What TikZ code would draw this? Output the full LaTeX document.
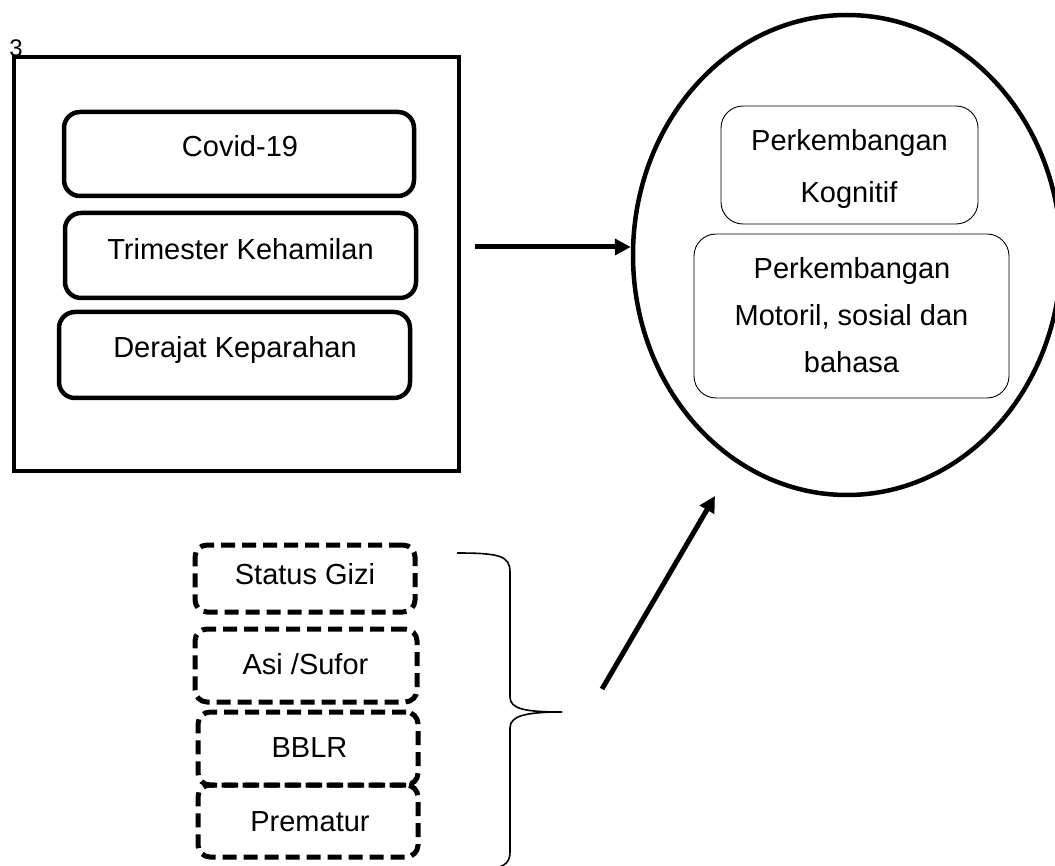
\documentclass[tikz,border=0pt]{standalone}
\usepackage{fontspec}
\setmainfont{Liberation Sans}
\usetikzlibrary{arrows.meta,shapes.geometric}
\begin{document}
\begin{tikzpicture}[x=1pt,y=-1pt,
  lbl/.style={font=\fontsize{29}{34}\selectfont, anchor=base, inner sep=0pt},
  solidbox/.style={draw, line width=4.5pt, rounded corners=16pt, inner sep=0pt},
  dashbox/.style={draw, line width=5pt, rounded corners=12pt, dash pattern=on 14pt off 7pt, inner sep=0pt},
  thinbox/.style={draw, line width=0.9pt, rounded corners=22pt, inner sep=0pt},
  arr/.style={line width=5pt, -{Triangle[length=16pt,width=16pt]}},
  bracestyle/.style={line width=1.6pt}]
\useasboundingbox (0,0) rectangle (1055,866);
% left frame
\node[draw, line width=4.5pt, minimum width=445pt, minimum height=414pt, inner sep=0pt] (outer) at (236.5,264) {};
\node[font=\fontsize{24}{28}\selectfont, inner sep=0pt] (num) at (16,48) {3};
% solid boxes
\node[solidbox, minimum width=350pt, minimum height=84pt] (covid) at (239,154) {};
\node[solidbox, minimum width=351pt, minimum height=85pt] (trim) at (240.5,255.5) {};
\node[solidbox, minimum width=351pt, minimum height=86pt] (deraj) at (234.5,355) {};
\node[lbl] (tcovid) at (240,157) {Covid-19};
\node[lbl] (ttrim) at (240.5,260) {Trimester Kehamilan};
\node[lbl] (tderaj) at (235,358) {Derajat Keparahan};
% ellipse
\node[ellipse, draw, line width=4.5pt, minimum width=428pt, minimum height=480pt, inner sep=0pt] (ell) at (847,255) {};
\node[thinbox, minimum width=257pt, minimum height=118pt] (kog) at (849.5,165) {};
\node[thinbox, minimum width=315pt, minimum height=164pt] (mot) at (851.5,316) {};
\node[lbl] (kog1) at (849.5,151) {Perkembangan};
\node[lbl] (kog2) at (849,202.5) {Kognitif};
\node[lbl] (mot1) at (852,279) {Perkembangan};
\node[lbl] (mot2) at (851.5,326) {Motoril, sosial dan};
\node[lbl] (mot3) at (851.5,373) {bahasa};
% dashed boxes
\node[dashbox, minimum width=220pt, minimum height=67pt] (sg) at (305,578.5) {};
\node[dashbox, minimum width=222pt, minimum height=73pt] (asi) at (306,665.5) {};
\node[dashbox, minimum width=220pt, minimum height=73pt] (bblr) at (308,748.5) {};
\node[dashbox, minimum width=220pt, minimum height=72pt] (prem) at (308,821) {};
\node[lbl] (tsg) at (305,584) {Status Gizi};
\node[lbl] (tasi) at (305.5,674) {Asi /Sufor};
\node[lbl] (tbblr) at (309.5,757.5) {BBLR};
\node[lbl] (tprem) at (310,831) {Prematur};
% brace
\coordinate (brtip) at (562,712);
\draw[bracestyle] (457,553) .. controls (500,553) and (510,556) .. (510,572) -- (510,697)
  .. controls (510,709) and (525,712) .. (brtip);
\draw[bracestyle] (brtip) .. controls (525,712) and (510,716) .. (510,728) -- (510,852)
  .. controls (510,862) and (505,866) .. (495,868);
% arrows
\coordinate (hstart) at (475,247);
\draw[arr] (hstart) -- (hstart -| ell.west);
\coordinate (dstart) at (602,689);
\coordinate (dend) at (715,496);
\draw[arr] (dstart) -- (dend);
\end{tikzpicture}
\end{document}
